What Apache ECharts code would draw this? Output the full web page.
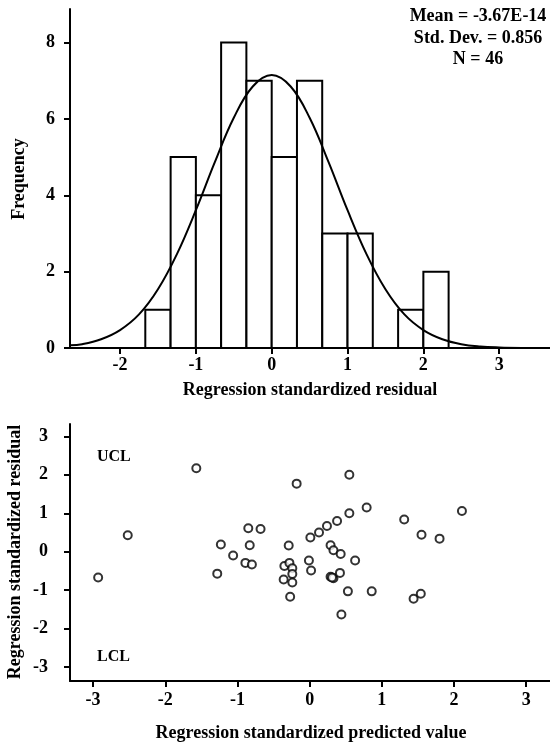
<!DOCTYPE html>
<html>
<head>
<meta charset="utf-8">
<script src="https://cdn.jsdelivr.net/npm/echarts@6/dist/echarts.min.js"></script>
<style>
  html, body { margin: 0; padding: 0; background: #fff; }
  #chart { width: 550px; height: 749px; }
</style>
</head>
<body>
<div id="chart"></div>
<script>
// histogram of residuals (bin width 1/3)
var binStarts = [-1.667, -1.333, -1, -0.667, -0.333, 0, 0.333, 0.667, 1, 1.333, 1.667, 2];
var binWidth = 0.333;
var binCounts = [1, 5, 4, 8, 7, 5, 7, 3, 3, 0, 1, 2];

// normal curve
var curveX = [-2.66, -2.5, -2.25, -2, -1.75, -1.5, -1.25, -1, -0.75, -0.5, -0.25, 0,
              0.25, 0.5, 0.75, 1, 1.25, 1.5, 1.75, 2, 2.25, 2.5, 2.75, 3, 3.3];
var curveY = [0.07, 0.10, 0.23, 0.47, 0.88, 1.54, 2.46, 3.61, 4.87, 6.03, 6.85, 7.15,
              6.85, 6.03, 4.87, 3.61, 2.46, 1.54, 0.88, 0.47, 0.23, 0.10, 0.04, 0.015, 0.003];

var histXTicks = [-2, -1, 0, 1, 2, 3];
var histYTicks = [0, 2, 4, 6, 8];

// predicted value vs residual
var predX = [-2.93, -2.52, -1.57, -1.28, -1.23, -1.06, -0.89, -0.85, -0.83, -0.80, -0.68,
             -0.18, 0.55, 0.79, 0.55, 0.38, 0.24, 0.13, 0.01, -0.29, 1.31, 2.11, 1.55, 1.80,
             0.29, 0.33, 0.43, 0.63, -0.01, 0.02, -0.35, -0.28, -0.24, -0.24, -0.36, -0.24,
             -0.27, 0.29, 0.33, 0.31, 0.42, 0.53, 0.86, 1.44, 1.54, 0.44];
var residY = [-0.67, 0.43, 2.17, -0.57, 0.19, -0.10, -0.29, 0.61, 0.17, -0.33, 0.59,
              1.77, 2.00, 1.15, 1.00, 0.80, 0.67, 0.50, 0.37, 0.16, 0.84, 1.06, 0.44, 0.34,
              0.17, 0.04, -0.06, -0.23, -0.23, -0.49, -0.37, -0.29, -0.43, -0.58, -0.72, -0.80,
              -1.17, -0.65, -0.69, -0.67, -0.55, -1.03, -1.03, -1.22, -1.09, -1.63];
var scatTicks = [-3, -2, -1, 0, 1, 2, 3];

var FONT = '"Liberation Serif", "Times New Roman", serif';

var chart = echarts.init(document.getElementById('chart'));

function axisStyle(ticks, margin) {
    return {
        axisLine: { show: true, onZero: false, lineStyle: { color: '#000', width: 2 } },
        axisTick: { show: true, inside: false, length: 6, lineStyle: { color: '#000', width: 2 }, customValues: ticks },
        axisLabel: { color: '#000', fontFamily: FONT, fontWeight: 'bold', fontSize: 18, margin: margin, customValues: ticks },
        splitLine: { show: false }
    };
}

var histData = [];
for (var i = 0; i < binStarts.length; i++) {
    histData.push([binStarts[i], binStarts[i] + binWidth, binCounts[i]]);
}
var curveData = [];
for (var j = 0; j < curveX.length; j++) curveData.push([curveX[j], curveY[j]]);
var scatData = [];
for (var k = 0; k < predX.length; k++) scatData.push([predX[k], residY[k]]);

var option = {
    animation: false,
    backgroundColor: '#fff',
    grid: [
        { left: 70, right: 0, top: 9, bottom: 401 },
        { left: 70, right: 0, top: 424, bottom: 68 }
    ],
    xAxis: [
        Object.assign({ type: 'value', gridIndex: 0, min: -2.66, max: 3.67 }, axisStyle(histXTicks, 8)),
        Object.assign({ type: 'value', gridIndex: 1, min: -3.32, max: 3.33 }, axisStyle(scatTicks, 10))
    ],
    yAxis: [
        Object.assign({ type: 'value', gridIndex: 0, min: 0, max: 8.88 }, axisStyle(histYTicks, 15)),
        Object.assign({ type: 'value', gridIndex: 1, min: -3.36, max: 3.32 }, axisStyle(scatTicks, 22))
    ],
    series: [
        {
            type: 'custom',
            xAxisIndex: 0, yAxisIndex: 0,
            data: histData,
            renderItem: function (params, api) {
                if (api.value(2) === 0) return null;
                var p0 = api.coord([api.value(0), api.value(2)]);
                var p1 = api.coord([api.value(1), 0]);
                return {
                    type: 'rect',
                    shape: { x: p0[0], y: p0[1], width: p1[0] - p0[0], height: p1[1] - p0[1] },
                    style: { fill: '#fff', stroke: '#000', lineWidth: 2 }
                };
            },
            z: 2
        },
        {
            type: 'line',
            xAxisIndex: 0, yAxisIndex: 0,
            data: curveData,
            smooth: 0.4,
            showSymbol: false,
            lineStyle: { color: '#000', width: 2 },
            z: 3
        },
        {
            type: 'scatter',
            xAxisIndex: 1, yAxisIndex: 1,
            data: scatData,
            symbol: 'circle',
            symbolSize: 8,
            itemStyle: { color: '#fff', borderColor: '#000', borderWidth: 2 }
        }
    ],
    graphic: [
        { type: 'text', x: 478, y: 6, style: { text: 'Mean = -3.67E-14\nStd. Dev. = 0.856\nN = 46', align: 'center', lineHeight: 21.5, font: 'bold 18px ' + FONT, fill: '#000' } },
        { type: 'text', x: 19, y: 179, rotation: Math.PI / 2, style: { text: 'Frequency', align: 'center', verticalAlign: 'middle', font: 'bold 18px ' + FONT, fill: '#000' } },
        { type: 'text', x: 310, y: 390, style: { text: 'Regression standardized residual', align: 'center', verticalAlign: 'middle', font: 'bold 18px ' + FONT, fill: '#000' } },
        { type: 'text', x: 15, y: 552, rotation: Math.PI / 2, style: { text: 'Regression standardized residual', align: 'center', verticalAlign: 'middle', font: 'bold 18px ' + FONT, fill: '#000' } },
        { type: 'text', x: 311, y: 733, style: { text: 'Regression standardized predicted value', align: 'center', verticalAlign: 'middle', font: 'bold 18px ' + FONT, fill: '#000' } },
        { type: 'text', x: 97, y: 457, style: { text: 'UCL', verticalAlign: 'middle', font: 'bold 16px ' + FONT, fill: '#000' } },
        { type: 'text', x: 97, y: 657, style: { text: 'LCL', verticalAlign: 'middle', font: 'bold 16px ' + FONT, fill: '#000' } }
    ]
};

chart.setOption(option);
</script>
</body>
</html>
